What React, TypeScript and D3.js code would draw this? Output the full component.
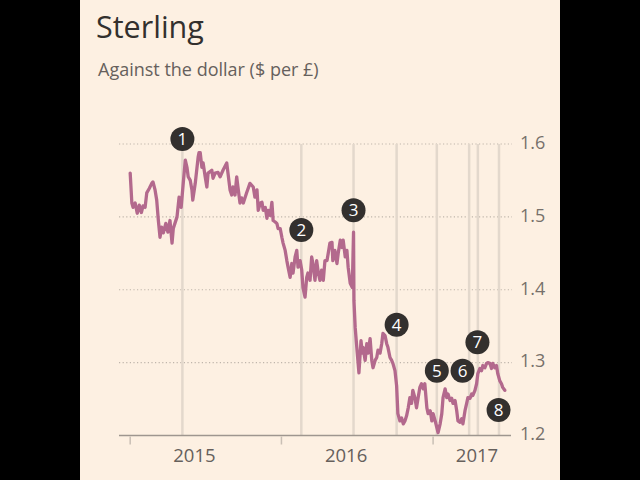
import React from "react";
import * as d3 from "d3";

const rateDates: string[] = [
  "2015-01-01","2015-01-05","2015-01-08","2015-01-13","2015-01-18","2015-01-23","2015-01-28","2015-02-01","2015-02-06","2015-02-10",
  "2015-02-16","2015-02-22","2015-02-25","2015-03-02","2015-03-06","2015-03-10","2015-03-14","2015-03-18","2015-03-22","2015-03-28",
  "2015-04-02","2015-04-07","2015-04-12","2015-04-15","2015-04-24","2015-04-29","2015-05-04","2015-05-09","2015-05-14","2015-05-18",
  "2015-05-21","2015-05-26","2015-05-30","2015-06-01","2015-06-07","2015-06-14","2015-06-16","2015-06-19","2015-06-23","2015-06-26",
  "2015-07-01","2015-07-05","2015-07-08","2015-07-17","2015-07-20","2015-07-25","2015-08-01","2015-08-06","2015-08-13","2015-08-22",
  "2015-08-25","2015-08-30","2015-09-03","2015-09-06","2015-09-11","2015-09-15","2015-09-18","2015-09-23","2015-09-27","2015-10-01",
  "2015-10-09","2015-10-17","2015-10-25","2015-10-29","2015-11-03","2015-11-06","2015-11-11","2015-11-15","2015-11-18","2015-11-23",
  "2015-11-27","2015-11-30","2015-12-05","2015-12-09","2015-12-12","2015-12-17","2015-12-21","2015-12-24","2015-12-29",
  "2016-01-02","2016-01-05","2016-01-10","2016-01-14","2016-01-17","2016-01-22","2016-01-26","2016-01-29","2016-02-03","2016-02-07",
  "2016-02-10","2016-02-15","2016-02-19","2016-02-22","2016-02-27","2016-03-02","2016-03-05","2016-03-10","2016-03-14","2016-03-17",
  "2016-03-22","2016-03-26","2016-03-30","2016-04-03","2016-04-07","2016-04-11","2016-04-15","2016-04-20","2016-04-27","2016-05-02",
  "2016-05-04","2016-05-09","2016-05-14","2016-05-17","2016-05-22","2016-05-26","2016-05-29","2016-06-03","2016-06-07","2016-06-10",
  "2016-06-15","2016-06-20","2016-06-23","2016-06-24","2016-06-27","2016-07-02","2016-07-06","2016-07-11","2016-07-14","2016-07-16",
  "2016-07-21","2016-07-25","2016-07-28","2016-08-02","2016-08-06","2016-08-09","2016-08-14","2016-08-18","2016-08-21","2016-08-26",
  "2016-08-30","2016-09-02","2016-09-07","2016-09-11","2016-09-14","2016-09-19","2016-09-23","2016-09-26","2016-10-01","2016-10-05",
  "2016-10-08","2016-10-13","2016-10-17","2016-10-21","2016-10-25","2016-10-29","2016-11-02","2016-11-06","2016-11-10","2016-11-13",
  "2016-11-18","2016-11-22","2016-11-26","2016-11-30","2016-12-04","2016-12-08","2016-12-12","2016-12-17","2016-12-20","2016-12-25",
  "2016-12-29",
  "2017-01-01","2017-01-06","2017-01-10","2017-01-13","2017-01-18","2017-01-22","2017-01-25","2017-01-30","2017-02-03","2017-02-06",
  "2017-02-11","2017-02-15","2017-02-18","2017-02-23","2017-02-27","2017-03-02","2017-03-07","2017-03-11","2017-03-14","2017-03-19",
  "2017-03-23","2017-03-26","2017-03-31","2017-04-04","2017-04-07","2017-04-12","2017-04-16","2017-04-19","2017-04-24","2017-04-28",
  "2017-05-01","2017-05-06","2017-05-10","2017-05-13","2017-05-18","2017-05-22","2017-05-25","2017-05-30","2017-06-03","2017-06-06",
  "2017-06-11","2017-06-15","2017-06-18","2017-06-23",
];

const rateValues: number[] = [
  1.560,1.519,1.513,1.519,1.505,1.516,1.506,1.515,1.513,1.533,
  1.539,1.546,1.548,1.537,1.523,1.495,1.472,1.486,1.478,1.491,
  1.479,1.495,1.464,1.484,1.500,1.527,1.513,1.546,1.578,1.568,
  1.555,1.550,1.537,1.523,1.546,1.582,1.588,1.588,1.568,1.574,
  1.555,1.541,1.560,1.564,1.553,1.560,1.561,1.555,1.564,1.574,
  1.560,1.537,1.530,1.541,1.530,1.555,1.541,1.519,1.526,1.519,
  1.533,1.546,1.541,1.527,1.537,1.509,1.519,1.520,1.509,1.513,
  1.498,1.509,1.502,1.520,1.495,1.493,1.491,1.484,1.484,
  1.472,1.464,1.454,1.440,1.431,1.417,1.436,1.423,1.445,1.454,
  1.431,1.440,1.427,1.403,1.390,1.417,1.423,1.413,1.445,1.436,
  1.413,1.440,1.423,1.413,1.427,1.413,1.440,1.440,1.464,1.465,
  1.440,1.454,1.436,1.450,1.468,1.458,1.468,1.445,1.454,1.431,
  1.409,1.403,1.479,1.385,1.348,1.313,1.286,1.330,1.313,1.321,
  1.303,1.326,1.313,1.333,1.303,1.293,1.303,1.307,1.317,1.313,
  1.326,1.340,1.337,1.326,1.321,1.307,1.303,1.299,1.289,1.268,
  1.230,1.220,1.224,1.216,1.220,1.227,1.238,1.252,1.244,1.262,
  1.252,1.238,1.252,1.266,1.271,1.264,1.271,1.238,1.230,1.234,
  1.220,
  1.230,1.220,1.211,1.204,1.216,1.230,1.252,1.264,1.252,1.257,
  1.248,1.251,1.244,1.248,1.234,1.220,1.218,1.223,1.216,1.234,
  1.244,1.252,1.251,1.257,1.255,1.262,1.271,1.285,1.292,1.289,
  1.296,1.293,1.299,1.300,1.299,1.292,1.299,1.293,1.296,1.285,
  1.275,1.271,1.266,1.262,
];

const eventDates: string[] = [
  "2015-05-07","2016-02-18","2016-06-23","2016-10-05","2017-01-10","2017-03-29","2017-04-19","2017-06-09",
];
const eventNumbers: string[] = ["1","2","3","4","5","6","7","8"];
const eventLabelDates: string[] = [
  "2015-05-07","2016-02-18","2016-06-23","2016-10-05","2017-01-10","2017-03-13","2017-04-18","2017-06-08",
];
const eventLabelValues: number[] = [1.607, 1.482, 1.509, 1.352, 1.289, 1.289, 1.328, 1.235];

const yTicks: number[] = [1.2, 1.3, 1.4, 1.5, 1.6];
const yGridTicks: number[] = [1.3, 1.4, 1.5, 1.6];
const xTickDates: string[] = ["2015-01-01", "2016-01-01", "2017-01-01"];
const xTickLabels: string[] = ["2015", "2016", "2017"];
const xLabelDates: string[] = ["2015-06-05", "2016-06-05", "2017-04-17"];
const xDomain: string[] = ["2014-12-05", "2017-07-08"];

const title = "Sterling";
const subtitle = "Against the dollar ($ per £)";

const FONT = "'Open Sans', 'Noto Sans', sans-serif";

export default function App() {
  const W = 640, H = 480;
  const parse = d3.utcParse("%Y-%m-%d");
  const x = d3
    .scaleUtc()
    .domain([parse(xDomain[0])!, parse(xDomain[1])!])
    .range([119, 511]);
  const y = d3.scaleLinear().domain([1.2, 1.6]).range([435.5, 144]);

  const series = rateDates.map((d, i) => ({ date: parse(d)!, value: rateValues[i] }));
  const line = d3
    .line<{ date: Date; value: number }>()
    .x((d) => x(d.date))
    .y((d) => y(d.value))
    .curve(d3.curveLinear);

  return (
    <div style={{ position: "absolute", left: 0, top: 0, width: W, height: H }}>
      <svg width={W} height={H} style={{ display: "block" }}>
        <rect x={0} y={0} width={W} height={H} fill="#000" />
        <rect x={80} y={0} width={480} height={H} fill="#fdf0e2" />
        <text x={96} y={38} fontFamily={FONT} fontSize={30.5} fill="#33302e">
          {title}
        </text>
        <text x={98} y={76} fontFamily={FONT} fontSize={18} fill="#66605c">
          {subtitle}
        </text>

        {yGridTicks.map((t) => (
          <line
            key={"g" + t}
            x1={119}
            x2={512}
            y1={y(t)}
            y2={y(t)}
            stroke="#bfb5ab"
            strokeWidth={1.2}
            strokeDasharray="1.2,2.4"
          />
        ))}

        {eventDates.map((d, i) => (
          <line
            key={"e" + i}
            x1={x(parse(d)!)}
            x2={x(parse(d)!)}
            y1={y(1.6)}
            y2={y(1.2)}
            stroke="#e3d8cc"
            strokeWidth={2.5}
          />
        ))}

        <path
          d={line(series) || ""}
          fill="none"
          stroke="#b3698d"
          strokeWidth={3.3}
          strokeLinejoin="round"
          strokeLinecap="round"
        />

        <line x1={119} x2={511} y1={y(1.2)} y2={y(1.2)} stroke="#9e968f" strokeWidth={1.5} />
        {xTickDates.map((d, i) => (
          <line
            key={"t" + i}
            x1={x(parse(d)!)}
            x2={x(parse(d)!)}
            y1={y(1.2) + 1}
            y2={y(1.2) + 9}
            stroke="#c9bfb5"
            strokeWidth={1.5}
          />
        ))}
        {xLabelDates.map((d, i) => (
          <text
            key={"xl" + i}
            x={x(parse(d)!)}
            y={462}
            textAnchor="middle"
            fontFamily={FONT}
            fontSize={18.5}
            fill="#66605c"
          >
            {xTickLabels[i]}
          </text>
        ))}

        {yTicks.map((t) => (
          <text
            key={"yl" + t}
            x={520}
            y={y(t) - 1.5}
            dy="0.35em"
            fontFamily={FONT}
            fontSize={18}
            fill="#77706b"
          >
            {t.toFixed(1)}
          </text>
        ))}

        {eventLabelDates.map((d, i) => {
          const cx = x(parse(d)!);
          const cy = y(eventLabelValues[i]);
          return (
            <g key={"c" + i}>
              <circle cx={cx} cy={cy} r={12} fill="#33302e" />
              <text
                x={cx}
                y={cy}
                dy="0.36em"
                textAnchor="middle"
                fontFamily={FONT}
                fontSize={17}
                fill="#ffffff"
              >
                {eventNumbers[i]}
              </text>
            </g>
          );
        })}
      </svg>
    </div>
  );
}
